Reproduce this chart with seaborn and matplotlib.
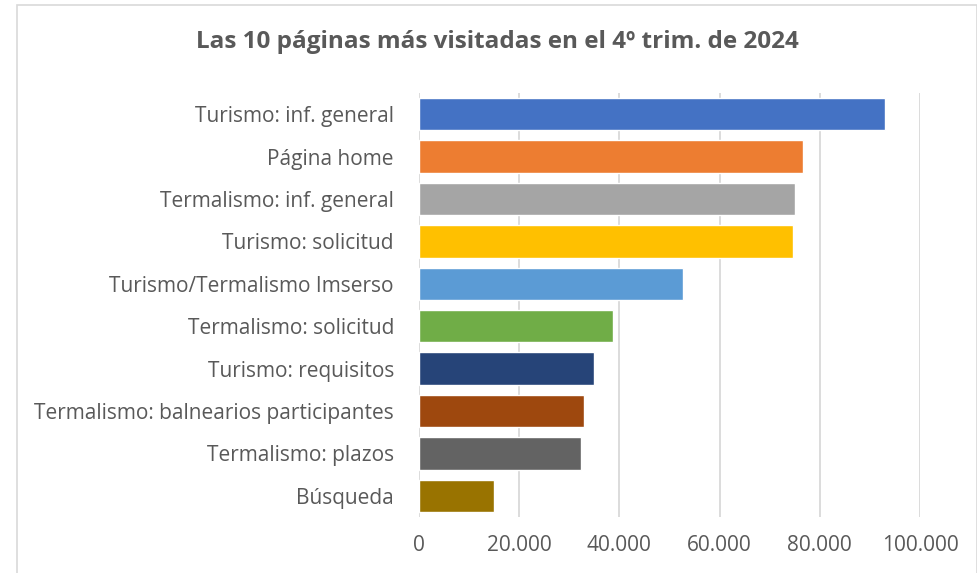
import matplotlib
matplotlib.use("Agg")
import matplotlib.pyplot as plt
import matplotlib.ticker as mticker
from matplotlib.patches import Rectangle
import seaborn as sns
import pandas as pd

# --- DATA ---
PAGES = [
    "Turismo: inf. general",
    "Página home",
    "Termalismo: inf. general",
    "Turismo: solicitud",
    "Turismo/Termalismo Imserso",
    "Termalismo: solicitud",
    "Turismo: requisitos",
    "Termalismo: balnearios participantes",
    "Termalismo: plazos",
    "Búsqueda",
]
VISITS = [93000, 76600, 75100, 74600, 52700, 38800, 35000, 32900, 32400, 15000]
BAR_COLORS = ["#4472C4", "#ED7D31", "#A5A5A5", "#FFC000", "#5B9BD5",
              "#70AD47", "#264478", "#9E480E", "#636363", "#997300"]
TITLE = "Las 10 páginas más visitadas en el 4º trim. de 2024"

TEXT_COLOR = "#595959"


def fmt_thousands(x, pos):
    return f"{int(x):,}".replace(",", ".")


def main():
    df = pd.DataFrame({"page": PAGES, "visits": VISITS})

    sns.set_style("white")
    plt.rcParams['font.family'] = ['Open Sans', 'DejaVu Sans']

    fig = plt.figure(figsize=(9.78, 5.73), dpi=100)
    ax = fig.add_axes([419 / 978, 1 - 517 / 573, 501 / 978, 424 / 573])

    sns.barplot(data=df, x="visits", y="page", hue="page", palette=BAR_COLORS,
                legend=False, width=0.76, saturation=1, ax=ax, orient="h")

    ax.set_xlim(0, 100000)
    ax.set_ylim(9.5, -0.5)
    ax.xaxis.set_major_locator(mticker.MultipleLocator(20000))
    ax.xaxis.set_major_formatter(mticker.FuncFormatter(fmt_thousands))
    ax.grid(axis="x", color="#d9d9d9", linewidth=1.3)
    ax.set_axisbelow(True)
    for s in ax.spines.values():
        s.set_visible(False)
    ax.set_xlabel("")
    ax.set_ylabel("")
    ax.tick_params(axis="both", length=0, colors=TEXT_COLOR, labelsize=15)
    ax.tick_params(axis="x", pad=13)
    ax.tick_params(axis="y", pad=18)

    fig.text(497 / 978, 1 - 42 / 573, TITLE, ha="center", va="center",
             fontsize=17.5, fontweight="bold", color=TEXT_COLOR)

    # chart border
    fig.patches.append(Rectangle((17 / 978, -0.05), 960 / 978, 1 - 5 / 573 + 0.05,
                                 transform=fig.transFigure, fill=False,
                                 edgecolor="#d9d9d9", linewidth=1.2))

    fig.savefig("out.png", dpi=100)
    plt.close(fig)


if __name__ == "__main__":
    main()
